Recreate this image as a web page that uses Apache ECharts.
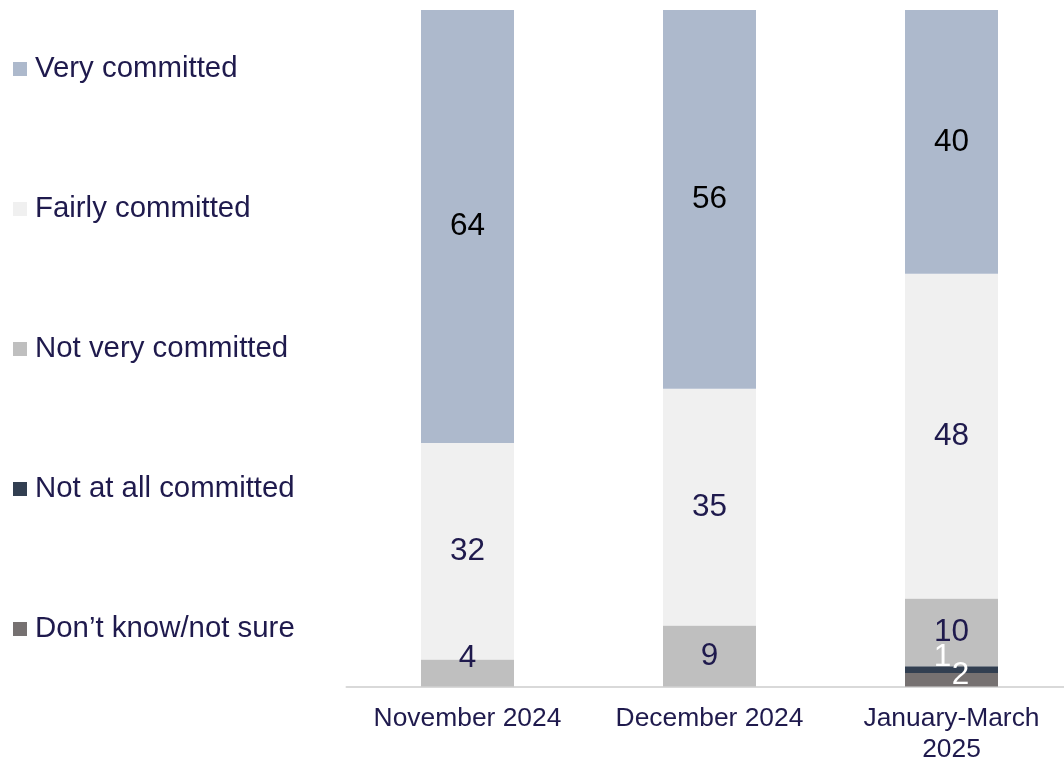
<!DOCTYPE html>
<html>
<head>
<meta charset="utf-8">
<style>
  html, body { margin: 0; padding: 0; background: #ffffff; }
  #chart { width: 1064px; height: 761px; }
</style>
<script src="https://cdn.jsdelivr.net/npm/echarts@6/dist/echarts.min.js"></script>
</head>
<body>
<div id="chart"></div>
<script>
// Survey periods along the x axis
const periods = ['November 2024', 'December 2024', 'January-March\n2025'];

// Share of respondents (%) by level of commitment, one value per period
const dontKnow    = [null, null, 2];
const notAtAll    = [null, null, 1];
const notVery     = [4, 9, 10];
const fairly      = [32, 35, 48];
const veryCommitted = [64, 56, 40];

const NAVY = '#1f1a4d';
const FONT = '"Liberation Sans", Arial, sans-serif';

// Thin segments get their labels nudged so they stay readable
function nudged(values, offsets) {
  return values.map((v, i) => {
    if (v == null) return v;
    const o = offsets[i];
    return o ? { value: v, label: { offset: o } } : v;
  });
}

function makeSeries(name, data, color, labelColor) {
  return {
    name: name,
    type: 'bar',
    stack: 'total',
    barWidth: 93,
    data: data,
    itemStyle: { color: color },
    label: {
      show: true,
      position: 'inside',
      fontFamily: FONT,
      fontSize: 31.5,
      color: labelColor
    },
    emphasis: { disabled: true }
  };
}

const chart = echarts.init(document.getElementById('chart'), null, { renderer: 'canvas' });

chart.setOption({
  animation: false,
  backgroundColor: '#ffffff',
  grid: {
    left: 346.5, width: 726, top: 10, bottom: 74.5,
    containLabel: false,
    outerBoundsMode: 'none'
  },
  legend: {
    orient: 'vertical',
    left: 8,
    top: 49,
    itemWidth: 14,
    itemHeight: 14,
    itemGap: 110,
    icon: 'rect',
    selectedMode: false,
    data: ['Very committed', 'Fairly committed', 'Not very committed', 'Not at all committed', 'Don\u2019t know/not sure'],
    textStyle: {
      fontFamily: FONT,
      fontSize: 29.4,
      lineHeight: 30,
      color: NAVY,
      padding: [0, 0, 0, 3]
    }
  },
  xAxis: {
    type: 'category',
    data: periods,
    axisLine: { show: true, lineStyle: { color: '#d9d9d9', width: 2 } },
    axisTick: { show: false },
    axisLabel: {
      interval: 0,
      margin: 17,
      fontFamily: FONT,
      fontSize: 26.4,
      lineHeight: 31,
      color: NAVY
    }
  },
  yAxis: {
    type: 'value',
    min: 0,
    max: 100,
    show: false,
    splitLine: { show: false }
  },
  series: [
    makeSeries('Don\u2019t know/not sure', nudged(dontKnow, [null, null, [9, -4]]), '#767171', '#ffffff'),
    makeSeries('Not at all committed', nudged(notAtAll, [null, null, [-9, -12]]), '#323f51', '#ffffff'),
    makeSeries('Not very committed', nudged(notVery, [[0, -15], null, null]), '#bfbfbf', NAVY),
    makeSeries('Fairly committed', fairly, '#f0f0f0', NAVY),
    makeSeries('Very committed', veryCommitted, '#adb9cc', '#000000')
  ]
});
</script>
</body>
</html>
